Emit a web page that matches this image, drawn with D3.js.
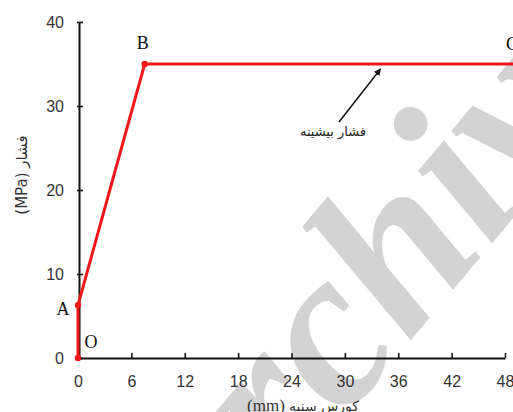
<!DOCTYPE html>
<html>
<head>
<meta charset="utf-8">
<script src="https://cdn.jsdelivr.net/npm/d3@7/dist/d3.min.js"></script>
<style>
  html, body { margin: 0; padding: 0; background: #fff; }
  svg { display: block; }
</style>
</head>
<body>
<svg id="chart" width="513" height="412"></svg>
<script>
// Punch stroke (mm) vs. pressure (MPa): O -> A -> B -> C
const pointNames = ["O", "A", "B", "C"];
const strokeMm = [0, 0, 7.5, 49];
const pressureMPa = [0, 6.3, 35, 35];
const xTicks = [0, 6, 12, 18, 24, 30, 36, 42, 48];
const yTicks = [0, 10, 20, 30, 40];
const xTitle = "کورس سنبه";
const xUnit = "(mm) ";
const yTitle = "(MPa) فشار";
const peakLabel = "فشار بیشینه";
const stampText = "Archive";

const svg = d3.select("#chart");

const x = d3.scaleLinear().domain([0, 48]).range([78, 505]);
const y = d3.scaleLinear().domain([0, 40]).range([358, 22]);

const numFont = "'Liberation Sans Narrow', 'Arial Narrow', 'Liberation Sans', sans-serif";
const serifFont = "'Liberation Serif', 'Times New Roman', serif";
const faFont = "'DejaVu Sans', 'Noto Sans', sans-serif";

// light stamp text behind the plot
svg.append("text")
  .attr("transform", "translate(191,602) rotate(-50)")
  .attr("font-family", serifFont)
  .attr("font-style", "italic")
  .attr("font-weight", "bold")
  .attr("font-size", 225)
  .attr("fill", "#d3d3d3")
  .text(stampText);

// x axis
const xAxis = svg.append("g")
  .attr("transform", `translate(0,${y(0)})`)
  .call(d3.axisBottom(x).tickValues(xTicks).tickSizeInner(-5).tickSizeOuter(0).tickPadding(18));
xAxis.select(".domain").attr("stroke", "#111").attr("stroke-width", 2);
xAxis.selectAll(".tick line").attr("stroke", "#111").attr("stroke-width", 1.6);
xAxis.selectAll(".tick text")
  .attr("font-family", numFont).attr("font-size", 16).attr("fill", "#333");

// y axis
const yAxis = svg.append("g")
  .attr("transform", `translate(${x(0) + 1},0)`)
  .call(d3.axisLeft(y).tickValues(yTicks).tickSizeInner(-4).tickSizeOuter(0).tickPadding(15));
yAxis.select(".domain").attr("stroke", "#111").attr("stroke-width", 2);
yAxis.selectAll(".tick line").attr("x1", -2).attr("stroke", "#111").attr("stroke-width", 1.6);
yAxis.selectAll(".tick text")
  .attr("font-family", numFont).attr("font-size", 16).attr("fill", "#333");

// axis titles
svg.append("text")
  .attr("transform", "translate(27,175) rotate(-90)")
  .attr("text-anchor", "middle")
  .attr("direction", "ltr")
  .attr("font-family", faFont)
  .attr("font-size", 15)
  .attr("fill", "#333")
  .text(yTitle);

const xt = svg.append("text")
  .attr("x", 303).attr("y", 411)
  .attr("text-anchor", "middle")
  .attr("direction", "ltr")
  .attr("fill", "#333");
xt.append("tspan").attr("font-family", serifFont).attr("font-size", 17).text(xUnit);
xt.append("tspan").attr("font-family", faFont).attr("font-size", 14).text(xTitle);

// pressure curve
const pts = pointNames.map((n, i) => ({ name: n, sx: strokeMm[i], p: pressureMPa[i] }));
svg.append("path")
  .datum(pts)
  .attr("fill", "none")
  .attr("stroke", "#f01818")
  .attr("stroke-width", 3)
  .attr("stroke-linejoin", "round")
  .attr("d", d3.line().x(d => x(d.sx)).y(d => y(d.p)));

svg.selectAll("circle.pt")
  .data(pts.slice(0, 3))
  .join("circle")
  .attr("class", "pt")
  .attr("cx", d => x(d.sx))
  .attr("cy", d => y(d.p))
  .attr("r", 3.2)
  .attr("fill", "#f01818");

// point letters
const letterOffsets = { O: [13, -10], A: [-15, 10], B: [-2, -15], C: [-2, -14] };
svg.selectAll("text.pt-label")
  .data(pts)
  .join("text")
  .attr("class", "pt-label")
  .attr("x", d => x(d.sx) + letterOffsets[d.name][0])
  .attr("y", d => y(d.p) + letterOffsets[d.name][1])
  .attr("text-anchor", "middle")
  .attr("font-family", serifFont)
  .attr("font-size", 18)
  .attr("fill", "#111")
  .text(d => d.name);

// peak pressure annotation with arrow
const defs = svg.append("defs");
defs.append("marker")
  .attr("id", "arrowhead")
  .attr("viewBox", "0 0 10 10")
  .attr("refX", 9).attr("refY", 5)
  .attr("markerWidth", 7).attr("markerHeight", 7)
  .attr("markerUnits", "userSpaceOnUse")
  .attr("orient", "auto")
  .append("path")
  .attr("d", "M0,0 L10,5 L0,10 Z")
  .attr("fill", "#111");

svg.append("line")
  .attr("x1", 339).attr("y1", 122)
  .attr("x2", x(34)).attr("y2", y(35) + 5)
  .attr("stroke", "#111")
  .attr("stroke-width", 1.5)
  .attr("marker-end", "url(#arrowhead)");

svg.append("text")
  .attr("x", 333).attr("y", 136)
  .attr("text-anchor", "middle")
  .attr("font-family", faFont)
  .attr("font-size", 13)
  .attr("fill", "#222")
  .text(peakLabel);
</script>
</body>
</html>
